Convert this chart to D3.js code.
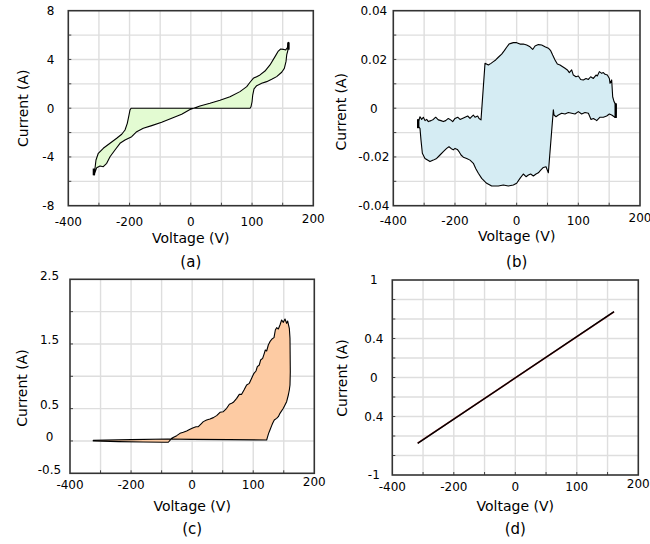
<!DOCTYPE html>
<html><head><meta charset="utf-8">
<script src="https://cdn.jsdelivr.net/npm/d3@7/dist/d3.min.js"></script>
<style>
body{margin:0;background:#fff}
svg{display:block}
text{font-family:"DejaVu Sans",sans-serif;fill:#000}
</style>
</head><body>
<svg id="chart" width="650" height="544"></svg>
<script>
// ---------- shared axis data ----------
const xTickValues = [-200, -100, 0, 100, 200];
const xTickLabels = ["-400", "-200", "0", "100", "200"];
const xLabel = "Voltage (V)";
const yLabel = "Current (A)";
const panelLetters = ["(a)", "(b)", "(c)", "(d)"];

// ---------- panel (a) ----------
const aYTicks = [8, 4, 0, -4, -8];
const aYTickLabels = ["8", "4", "0", "-4", "-8"];
const aVolt = [-158.0,-153.6,-148.2,-142.9,-137.3,-131.9,-123.8,-115.6,-107.4,-96.5,-88.3,-77.6,-63.8,-47.5,-31.2,-14.9,-1.3,15,31.3,47.7,64,80.3,91.3,96.7,102,107.6,113,121.1,129.3,137.5,142.9,146.8,151,154.9,157.6,159.2,
  159.5,158.8,156.6,155.4,152.7,148.4,140.2,132.1,123.9,115.8,107.6,103.2,101.1,100.0,98.3,96.7,-97.5,-99.3,-100.9,-103.7,-107.4,-112.8,-121,-131.9,-142.9,-151,-154.8,-156.4,-158.0];
const aCurr = [-5.48,-4.88,-4.74,-4.80,-4.52,-3.98,-3.43,-2.88,-2.61,-2.34,-1.93,-1.65,-1.43,-1.16,-0.83,-0.50,-0.10,0.18,0.40,0.65,0.94,1.36,1.77,2.13,2.45,2.59,2.73,3.05,3.55,4.23,4.69,4.86,4.83,4.78,4.96,5.33,
  5.40,4.80,4.37,3.82,3.27,2.95,2.59,2.37,2.18,2.04,1.85,1.58,1.08,0.53,0.12,0.0,0.0,-0.15,-0.56,-1.24,-1.79,-2.14,-2.47,-2.88,-3.29,-3.70,-4.25,-4.93,-5.48];
const aEndVolt = [-158.2, 159.4];
const aEndLow = [-5.5, 4.8];
const aEndHigh = [-4.95, 5.4];

// ---------- panel (b) ----------
const bYTicks = [0.04, 0.02, 0, -0.02, -0.04];
const bYTickLabels = ["0.04", "0.02", "0", "-0.02", "-0.04"];
const bVolt = [-159.4,-156.7,-154.0,-151.3,-148.6,-145.9,-143.2,-138.9,-135.1,-131.3,-127.0,-122.7,-118.9,-115.1,-110.8,-107.0,-103.7,-99.9,-95.6,-91.8,-88.1,-83.7,-79.4,-75.6,-72.9,-70.2,-67.5,-63.2,-61.0,-57.8,
  -51.3,-45.9,-41.6,-37.8,-34.0,-29.7,-24.3,-20.0,-16.2,-12.4,-9.2,-5.4,0.0,5.4,10.8,16.3,21.7,26.0,29.8,35.2,40.6,46.0,51.4,55.2,58.4,62.2,66.0,70.3,74.6,78.4,82.2,85.4,89.2,91.9,96.2,100.0,103.8,108.1,112.5,116.3,120.0,124.4,128.7,130.8,134.1,137.9,140.6,143.3,147.1,150.3,151.4,154.1,155.7,157.9,161.1,161.1,160.0,
  154.1,150.3,146.0,140.6,135.2,129.8,127.1,124.4,120.6,116.3,110.8,105.4,100.0,94.6,89.2,83.8,78.4,73.0,67.6,63.8,60.6,59.5,
  51.4,47.6,43.3,39.0,35.2,31.4,27.1,22.7,19.0,15.2,10.8,5.4,0.0,-5.4,-13.5,-21.6,-29.7,-40.5,-48.6,-56.7,-62.1,-66.4,-70.2,-75.6,-81.0,-86.4,-90.2,-93.5,-96.2,-99.9,-102.7,-106.4,-109.7,-113.5,-118.9,-124.3,-129.7,-135.1,-140.5,-148.6,-152.9,-155.1,-156.7,-159.4];
const bCurr = [-0.0055,-0.0035,-0.0046,-0.0037,-0.0051,-0.0046,-0.0055,-0.0051,-0.0046,-0.0037,-0.0048,-0.0051,-0.0055,-0.0051,-0.0042,-0.0048,-0.0055,-0.0042,-0.0037,-0.0046,-0.0042,-0.0037,-0.0032,-0.0042,-0.0035,-0.0028,-0.0037,-0.0032,-0.0042,-0.0048,
  0.0184,0.0177,0.0184,0.0191,0.0198,0.0209,0.0222,0.0236,0.0250,0.0263,0.0266,0.0269,0.0269,0.0263,0.0263,0.0259,0.0252,0.0241,0.0255,0.0261,0.0259,0.0252,0.0246,0.0236,0.0218,0.0198,0.0181,0.0177,0.0170,0.0164,0.0157,0.0146,0.0157,0.0136,0.0129,0.0132,0.0118,0.0116,0.0122,0.0118,0.0129,0.0122,0.0136,0.0132,0.0150,0.0143,0.0146,0.0139,0.0136,0.0122,0.0102,0.0116,0.0047,0.0027,0.0013,-0.0014,-0.0038,
  -0.0028,-0.0024,-0.0032,-0.0037,-0.0037,-0.0051,-0.0046,-0.0042,-0.0046,-0.0021,-0.0018,-0.0024,-0.0014,-0.0024,-0.0021,-0.0018,-0.0024,-0.0021,-0.0028,-0.0035,-0.0028,-0.0007,
  -0.0265,-0.0240,-0.0243,-0.0254,-0.0265,-0.0270,-0.0278,-0.0270,-0.0274,-0.0281,-0.0270,-0.0288,-0.0308,-0.0315,-0.0319,-0.0315,-0.0319,-0.0319,-0.0308,-0.0288,-0.0267,-0.0247,-0.0226,-0.0213,-0.0206,-0.0201,-0.0192,-0.0178,-0.0169,-0.0165,-0.0171,-0.0165,-0.0158,-0.0165,-0.0178,-0.0192,-0.0206,-0.0213,-0.0219,-0.0206,-0.0185,-0.0131,-0.0083,-0.0076];
const bEndVolt = [-159.6, 160.6];
const bEndLow = [-0.0082, -0.0040];
const bEndHigh = [-0.0045, 0.0020];

// ---------- panel (c) ----------
const cYTicks = [2.5, 1.5, 0.5, 0, -0.5];
const cYTickLabels = ["2.5", "1.5", "0.5", "0", "-0.5"];
const cVolt = [-161.9,-120,-80,-45,-39,
  -33.5,-25.3,-19.9,-14.5,-9.0,-3.5,1.9,6.3,10.1,13.9,18.3,23.7,29.2,34.7,40.1,45.6,51.0,56.5,60.9,64.7,67.4,72.9,77.2,81.0,84.9,89.2,93.6,97.4,101.2,104.5,106.7,110.0,112.1,115.4,117.6,119.8,122.0,124.7,127.4,130.7,134.0,136.2,138.3,141.1,143.8,146.5,149.3,152.0,154.7,156.4,159.1,160.2,160.7,
  160.2,159.1,157.5,154.7,152.0,149.3,143.8,141.1,138.3,134.5,131.8,130.2,127.4,125.2,123.1,122.0,
  60,0,-40,-100,-161.9];
const cCurr = [0.0,-0.01,-0.015,-0.02,-0.02,
  0.041,0.082,0.118,0.134,0.154,0.180,0.206,0.221,0.221,0.257,0.299,0.324,0.340,0.361,0.392,0.443,0.453,0.505,0.567,0.582,0.598,0.659,0.721,0.721,0.788,0.866,0.891,0.969,1.046,1.082,1.149,1.175,1.252,1.278,1.340,1.407,1.391,1.484,1.536,1.577,1.598,1.716,1.752,1.732,1.793,1.871,1.835,1.886,1.819,1.855,1.742,1.587,1.072,
  0.866,0.788,0.711,0.608,0.556,0.505,0.427,0.376,0.350,0.324,0.273,0.237,0.170,0.118,0.051,0.015,
  0.02,0.025,0.03,0.02,0.01];

// ---------- panel (d) ----------
const dYTicks = [1, 0.4, 0, -0.4, -1];
const dYTickLabels = ["1", "0.4", "0", "0.4", "-1"];
const dVolt = [-158.7, 160.5];
const dCurrForward = [-0.673, 0.673];
const dCurrReturn = [-0.676, 0.676];

// ---------- layout ----------
const svg = d3.select("#chart");
const panels = [
  {l:68.3, r:313.3, t:10.7, b:205.7, yDomain:[-8,8], yDiv:8, yTicks:aYTicks, yLabels:aYTickLabels,
   yAnchor:"end", yTickX:-14, yTickDy:0, xTickDy:15.5, xTitleDy:32, letterDy:55.5, yTitleX:23, yTitleDy:0,
   volt:aVolt, curr:aCurr, fill:"#e3fbd2", end:{v:aEndVolt, lo:aEndLow, hi:aEndHigh}},
  {l:393.3, r:640, t:10.7, b:205.7, yDomain:[-0.04,0.04], yDiv:8, yTicks:bYTicks, yLabels:bYTickLabels,
   yAnchor:"middle", yTickX:-19.5, yTickDy:0, xTickDy:14.5, xTitleDy:30.5, letterDy:55.5, yTitleX:341, yTitleDy:3.5,
   volt:bVolt, curr:bCurr, fill:"#d5ecf3", end:{v:bEndVolt, lo:bEndLow, hi:bEndHigh}},
  {l:70, r:314.3, t:279.3, b:473.3, yDomain:[-0.5,2.5], yDiv:6, yTicks:cYTicks, yLabels:cYTickLabels,
   yAnchor:"middle", yTickX:-20.5, yTickDy:-4, xTickDy:11.7, xTitleDy:32.7, letterDy:55.7, yTitleX:21.7, yTitleDy:11.7,
   volt:cVolt, curr:cCurr, fill:"#fdcba3"},
  {l:392.3, r:638.3, t:280, b:475, yDomain:[-1,1], yDiv:10, yTicks:dYTicks, yLabels:dYTickLabels,
   yAnchor:"middle", yTickX:-18.5, yTickDy:0, xTickDy:12, xTitleDy:31, letterDy:54, yTitleX:341.7, yTitleDy:0.5,
   lines:[{volt:dVolt, curr:dCurrForward, color:"#9a2a2a", w:1.6}, {volt:dVolt, curr:dCurrReturn, color:"#000", w:1.3}]}
];

panels.forEach((p, i) => {
  const x = d3.scaleLinear().domain([-200, 200]).range([p.l, p.r]);
  const y = d3.scaleLinear().domain(p.yDomain).range([p.b, p.t]);
  const g = svg.append("g");

  // grid
  const xg = x.ticks(8).filter(v => v > -200 && v < 200);
  const yg = y.ticks(p.yDiv).filter(v => v > p.yDomain[0] + 1e-9 && v < p.yDomain[1] - 1e-9);
  g.selectAll(".gx").data(xg).join("line")
    .attr("x1", d => x(d)).attr("x2", d => x(d)).attr("y1", p.t).attr("y2", p.b)
    .attr("stroke", "#dedede").attr("stroke-width", 1.4);
  g.selectAll(".gy").data(yg).join("line")
    .attr("y1", d => y(d)).attr("y2", d => y(d)).attr("x1", p.l).attr("x2", p.r)
    .attr("stroke", "#dedede").attr("stroke-width", 1.4);
  // small inward ticks
  g.selectAll(".tx").data(xg).join("line")
    .attr("x1", d => x(d)).attr("x2", d => x(d)).attr("y1", p.b).attr("y2", p.b - 3)
    .attr("stroke", "#444").attr("stroke-width", 1);
  g.selectAll(".ty").data(yg).join("line")
    .attr("y1", d => y(d)).attr("y2", d => y(d)).attr("x1", p.l).attr("x2", p.l + 3)
    .attr("stroke", "#444").attr("stroke-width", 1);

  // data
  if (p.volt) {
    const pts = p.volt.map((v, k) => [x(v), y(p.curr[k])]);
    g.append("path").attr("d", d3.line()(pts) + "Z")
      .attr("fill", p.fill).attr("stroke", "#000").attr("stroke-width", 1.1)
      .attr("stroke-linejoin", "round");
  }
  if (p.end) {
    g.selectAll(".end").data(p.end.v).join("line")
      .attr("x1", d => x(d)).attr("x2", d => x(d))
      .attr("y1", (d, k) => y(p.end.lo[k])).attr("y2", (d, k) => y(p.end.hi[k]))
      .attr("stroke", "#000").attr("stroke-width", 2.4);
  }
  if (p.lines) {
    p.lines.forEach(L => {
      g.append("path").attr("d", d3.line()(L.volt.map((v, k) => [x(v), y(L.curr[k])])))
        .attr("fill", "none").attr("stroke", L.color).attr("stroke-width", L.w);
    });
  }

  // frame
  g.append("rect").attr("x", p.l).attr("y", p.t).attr("width", p.r - p.l).attr("height", p.b - p.t)
    .attr("fill", "none").attr("stroke", "#333").attr("stroke-width", 1.6);

  // x tick labels
  g.selectAll(".xl").data(xTickValues).join("text")
    .attr("x", d => x(d)).attr("y", (d, k) => p.b + p.xTickDy - (k === xTickValues.length - 1 ? 3 : 0))
    .attr("dy", "0.36em").attr("text-anchor", "middle").attr("font-size", 12)
    .text((d, k) => xTickLabels[k]);
  // y tick labels
  g.selectAll(".yl").data(p.yTicks).join("text")
    .attr("x", p.l + p.yTickX).attr("y", d => y(d) + p.yTickDy)
    .attr("dy", "0.36em").attr("text-anchor", p.yAnchor).attr("font-size", 12)
    .text((d, k) => p.yLabels[k]);
  // titles
  const cx = (p.l + p.r) / 2;
  g.append("text").attr("x", cx).attr("y", p.b + p.xTitleDy).attr("dy", "0.36em")
    .attr("text-anchor", "middle").attr("font-size", 14).text(xLabel);
  g.append("text").attr("x", cx).attr("y", p.b + p.letterDy).attr("dy", "0.36em")
    .attr("text-anchor", "middle").attr("font-size", 15).text(panelLetters[i]);
  const cy = (p.t + p.b) / 2 + p.yTitleDy;
  g.append("text").attr("transform", `translate(${p.yTitleX},${cy}) rotate(-90)`)
    .attr("dy", "0.36em").attr("text-anchor", "middle").attr("font-size", 14).text(yLabel);
});
</script>
</body></html>
